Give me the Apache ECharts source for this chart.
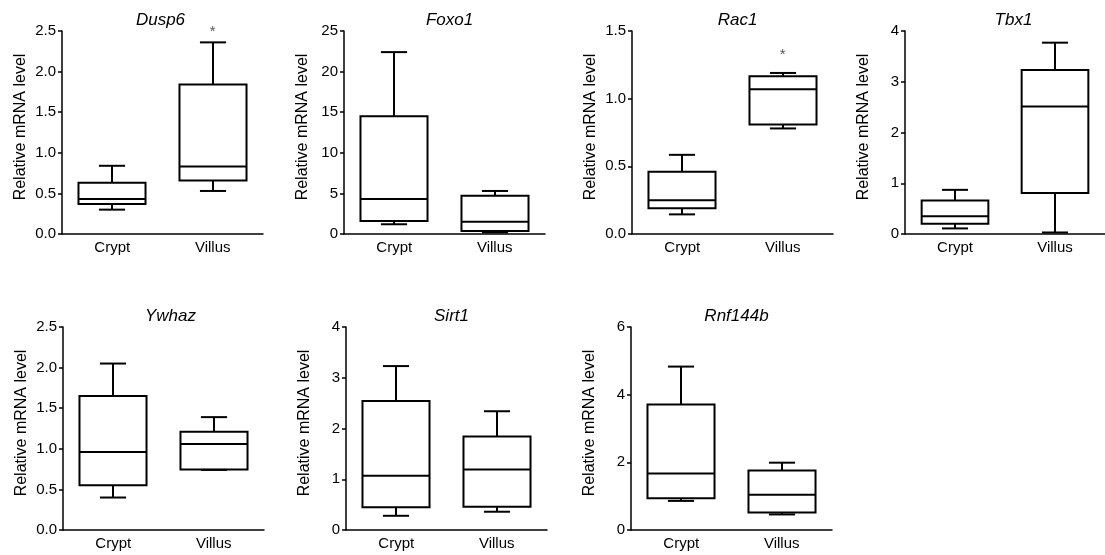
<!DOCTYPE html>
<html>
<head>
<meta charset="utf-8">
<script src="https://cdn.jsdelivr.net/npm/echarts@6/dist/echarts.min.js"></script>
<style>
html,body{margin:0;padding:0;background:#fff;}
#main{width:1105px;height:555px;}
</style>
</head>
<body>
<div id="main"></div>
<script>
var genes = ['Dusp6','Foxo1','Rac1','Tbx1','Ywhaz','Sirt1','Rnf144b'];
var groups = ['Crypt','Villus'];
// each box: [min, q1, median, q3, max], one row per group
var dusp6Box = [[0.30,0.37,0.43,0.63,0.84],[0.53,0.66,0.83,1.84,2.36]];
var foxo1Box = [[1.2,1.6,4.3,14.5,22.4],[0.2,0.37,1.5,4.7,5.3]];
var rac1Box = [[0.145,0.19,0.25,0.46,0.585],[0.78,0.81,1.07,1.165,1.19]];
var tbx1Box = [[0.11,0.2,0.35,0.66,0.87],[0.03,0.81,2.51,3.23,3.77]];
var ywhazBox = [[0.40,0.55,0.96,1.65,2.05],[0.74,0.745,1.06,1.21,1.39]];
var sirt1Box = [[0.28,0.45,1.07,2.54,3.23],[0.36,0.46,1.19,1.84,2.34]];
var rnf144bBox = [[0.86,0.94,1.67,3.71,4.83],[0.46,0.52,1.04,1.76,1.99]];
var allBoxes = [dusp6Box,foxo1Box,rac1Box,tbx1Box,ywhazBox,sirt1Box,rnf144bBox];
// y axis ticks
var yMax = [2.5,25,1.5,4,2.5,4,6];
var yStep = [0.5,5,0.5,1,0.5,1,2];
var yDigits = [1,0,1,0,1,0,0];
// significance marks
var sigGene = ['Dusp6','Rac1'];
var sigGroup = ['Villus','Villus'];
var sigY = [2.51,1.335];

// layout of the panels
var gridLeft = [62,344,632,905,63,346,631];
var gridTop = [31,31,31,31,327,327,327];
var titleShift = [-7,0,0,3,2,0,0];
var gridW = 201, gridH = 203;
var fontName = '"Liberation Sans", Arial, sans-serif';

function renderBox(params, api){
	var x = api.value(0);
	var lo = api.coord([x, api.value(1)]);
	var q1 = api.coord([x, api.value(2)]);
	var md = api.coord([x, api.value(3)]);
	var q3 = api.coord([x, api.value(4)]);
	var hi = api.coord([x, api.value(5)]);
	var band = api.size([1,0])[0];
	var bw = band*0.667, cw = bw*0.39;
	var cx = Math.round(lo[0]);
	var st = {stroke:'#000', lineWidth:2, fill:null};
	function ln(x1,y1,x2,y2){
		return {type:'line', shape:{x1:x1,y1:y1,x2:x2,y2:y2}, style:st};
	}
	return {type:'group', children:[
		{type:'rect', shape:{x:cx-bw/2, y:q3[1], width:bw, height:q1[1]-q3[1]}, style:{stroke:'#000',lineWidth:2,fill:'#fff'}},
		ln(cx-bw/2, md[1], cx+bw/2, md[1]),
		ln(cx, q3[1], cx, hi[1]),
		ln(cx, q1[1], cx, lo[1]),
		ln(cx-cw/2, hi[1], cx+cw/2, hi[1]),
		ln(cx-cw/2, lo[1], cx+cw/2, lo[1])
	]};
}

function renderSig(params, api){
	var p = api.coord([api.value(0), api.value(1)]);
	return {type:'text', x:p[0], y:p[1]+2, style:{text:'*', fill:'#555', font:'15px '+fontName, align:'center', verticalAlign:'middle'}};
}

var grids=[], xAxes=[], yAxes=[], series=[], titles=[];
for(var i=0;i<genes.length;i++){
	grids.push({left:gridLeft[i], top:gridTop[i], width:gridW, height:gridH});
	titles.push({
		text:genes[i], left:gridLeft[i]+gridW/2+titleShift[i], top:gridTop[i]-24, textAlign:'center',
		textStyle:{fontFamily:fontName, fontStyle:'italic', fontWeight:'normal', fontSize:17, color:'#000'}
	});
	xAxes.push({
		type:'category', gridIndex:i, data:groups,
		axisLine:{lineStyle:{color:'#000', width:1.5}},
		axisTick:{show:false},
		axisLabel:{color:'#000', fontSize:15, fontFamily:fontName, margin:6},
		splitLine:{show:false}
	});
	(function(d){
		yAxes.push({
			type:'value', gridIndex:i, min:0, max:yMax[i], interval:yStep[i],
			name:'Relative mRNA level', nameLocation:'middle', nameGap:33,
			nameTextStyle:{color:'#000', fontSize:16, fontFamily:fontName, padding:[0,0,0,11]},
			axisLine:{show:true, lineStyle:{color:'#000', width:1.5}},
			axisTick:{show:true, length:4, lineStyle:{color:'#000', width:1.5}},
			axisLabel:{color:'#000', fontSize:15, fontFamily:fontName, margin:6,
				formatter:function(v){ return v.toFixed(d); }},
			splitLine:{show:false}
		});
	})(yDigits[i]);
	var rows = [];
	for(var g=0; g<groups.length; g++){
		rows.push([g].concat(allBoxes[i][g]));
	}
	series.push({type:'custom', xAxisIndex:i, yAxisIndex:i, data:rows, renderItem:renderBox, silent:true});
	var sig = [];
	for(var s=0; s<sigGene.length; s++){
		if(sigGene[s]===genes[i]) sig.push([groups.indexOf(sigGroup[s]), sigY[s]]);
	}
	if(sig.length) series.push({type:'custom', xAxisIndex:i, yAxisIndex:i, data:sig, renderItem:renderSig, silent:true, z:5});
}

var myChart = echarts.init(document.getElementById('main'));
myChart.setOption({
	animation:false,
	backgroundColor:'#fff',
	title:titles,
	grid:grids,
	xAxis:xAxes,
	yAxis:yAxes,
	series:series
});
</script>
</body>
</html>
